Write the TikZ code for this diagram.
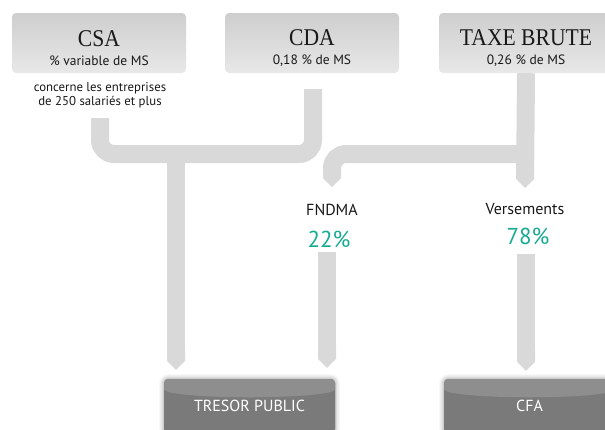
\documentclass[tikz,border=0pt]{standalone}
\usepackage{fontspec}
\setmainfont{PT Sans}
\newfontfamily\titlefont[FakeStretch=0.9]{Liberation Serif}
\usetikzlibrary{arrows.meta,shadows.blur}

\definecolor{boxtop}{RGB}{206,206,206}
\definecolor{boxbot}{RGB}{232,232,232}
\definecolor{pipegray}{RGB}{217,217,217}
\definecolor{basegray}{RGB}{122,122,122}
\definecolor{facegray}{RGB}{142,142,142}
\definecolor{pctgreen}{RGB}{22,170,146}
\definecolor{inkgray}{RGB}{24,24,24}

\newcommand{\boxtitle}[1]{{\titlefont\fontsize{24}{24}\selectfont\rule{0pt}{26pt}#1}}

\begin{document}
\begin{tikzpicture}[x=1pt,y=-1pt,
    pipe/.style={draw=pipegray,line width=18pt},
    pct/.style={text=pctgreen,font=\fontsize{23}{24}\selectfont}]

      \useasboundingbox (0,0) rectangle (605,429);

      \begin{scope}[every node/.style={rectangle,rounded corners=4pt,
          minimum width=174pt,minimum height=60pt,inner sep=0pt,
          top color=boxtop,bottom color=boxbot,align=center,text=inkgray,
          font=\fontsize{13.5}{19}\selectfont}]
        \node (csa)  at (99,43)  {\boxtitle{CSA}\\ \% variable de MS};
        \node (cda)  at (312,43) {\boxtitle{CDA}\\ 0,18 \% de MS};
        \node (taxe) at (526,43) {\boxtitle{TAXE BRUTE}\\ 0,26 \% de MS};
      \end{scope}

      \begin{scope}[every node/.style={rectangle,rounded corners=4pt,
          minimum width=171pt,minimum height=54pt,inner sep=0pt,
          fill=basegray,text=white,font=\fontsize{16}{18}\selectfont,
          blur shadow={shadow xshift=0pt,shadow yshift=0pt,shadow blur radius=5pt,shadow opacity=45},
          path picture={\fill[facegray] (path picture bounding box.north west)
            -- (path picture bounding box.north east)
            -- ([yshift=-6pt]path picture bounding box.north east)
            .. controls ([yshift=-21pt]path picture bounding box.north east)
            and ([yshift=-21pt]path picture bounding box.north west)
            .. ([yshift=-6pt]path picture bounding box.north west) -- cycle;}}]
        \node (tresor) at (249.5,406) {TRESOR PUBLIC};
        \node (cfa)    at (529.5,406) {CFA};
      \end{scope}

      \begin{scope}[every node/.style={inner sep=0pt,text=inkgray,font=\fontsize{16}{18}\selectfont}]
        \node[align=center,font=\fontsize{12.8}{13.5}\selectfont] (note) at (100,95)
          {concerne les entreprises\\de 250 salariés et plus};
        \node (fndma) at (332,210) {FNDMA};
        \node[pct] (p22) at (329,239) {22\%};
        \node (vers) at (525,209) {Versements};
        \node[pct] (p78) at (528,236) {78\%};
      \end{scope}

      \coordinate (csaout)   at (100,118);
      \coordinate (cdaout)   at (313,89);
      \coordinate (merge)    at (176,154);
      \coordinate (split)    at (525,154);
      \coordinate (fndmain)  at (332,187);
      \coordinate (versin)   at (525,188);
      \coordinate (fndmaout) at (327,252);
      \coordinate (versout)  at (526,254);

      \draw[pipe,rounded corners=14pt] (csaout) |- (merge) -| (cdaout);
      \draw[pipe,-{Triangle Cap}] (merge) -- ([yshift=9pt]merge |- tresor.north);
      \draw[pipe,-{Triangle Cap}] (taxe.south) -- (versin);
      \draw[pipe,rounded corners=14pt,-{Triangle Cap}] (split) -| (fndmain);
      \draw[pipe,-{Triangle Cap}] (fndmaout) -- ([yshift=11pt]fndmaout |- tresor.north);
      \draw[pipe,-{Triangle Cap}] (versout) -- ([yshift=8pt]versout |- cfa.north);

    \end{tikzpicture}
\end{document}
